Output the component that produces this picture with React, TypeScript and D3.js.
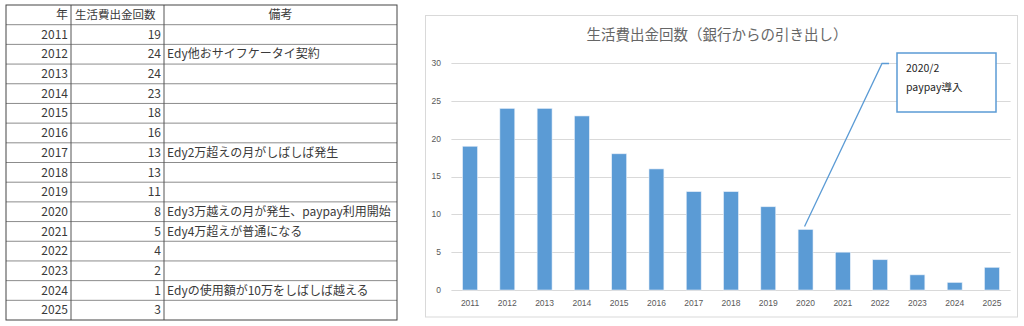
import React from "react";
import * as d3 from "d3";

const years = ["2011","2012","2013","2014","2015","2016","2017","2018","2019","2020","2021","2022","2023","2024","2025"];
const counts = [19, 24, 24, 23, 18, 16, 13, 13, 11, 8, 5, 4, 2, 1, 3];
const notes = ["", "Edy他おサイフケータイ契約", "", "", "", "", "Edy2万超えの月がしばしば発生", "", "", "Edy3万越えの月が発生、paypay利用開始", "Edy4万超えが普通になる", "", "", "Edyの使用額が10万をしばしば越える", ""];
const yTicks = [0, 5, 10, 15, 20, 25, 30];
const headers = ["年", "生活費出金回数", "備考"];
const chartTitle = "生活費出金回数（銀行からの引き出し）";
const annotationLines = ["2020/2", "paypay導入"];
const annotationYear = "2020";

const JP = "'Noto Sans CJK JP', 'Noto Sans', sans-serif";

export default function App() {
  // table geometry
  const tL = 6, tR = 397, tT = 5, tB = 320;
  const c1 = 71, c2 = 164;
  const rowH = (tB - tT) / (years.length + 1);

  // chart geometry
  const x = d3.scaleBand<string>().domain(years).range([451.4, 1010.6]).paddingInner(0.6).paddingOuter(0.3);
  const y = d3.scaleLinear().domain([0, 30]).range([290, 63]);

  const ax = (x(annotationYear) ?? 0) + x.bandwidth() / 2;
  const ayVal = counts[years.indexOf(annotationYear)];

  return (
    <svg width={1024} height={326} style={{ position: "absolute", left: 0, top: 0, background: "#fff" }}>
      <rect x={0} y={0} width={1024} height={326} fill="#fff" />
      {/* TABLE */}
      <g fontFamily={JP} fontSize={12} fill="#3a3a3a">
        {d3.range(1, years.length + 1).map((i) => (
          <line key={"h" + i} x1={tL} x2={tR} y1={tT + i * rowH} y2={tT + i * rowH} stroke="#8c8c8c" strokeWidth={1} />
        ))}
        {[c1, c2].map((cx, i) => (
          <line key={"v" + i} x1={cx} x2={cx} y1={tT} y2={tB} stroke="#555" strokeWidth={1} />
        ))}
        <rect x={tL} y={tT} width={tR - tL} height={tB - tT} fill="none" stroke="#444" strokeWidth={1} />
        <text x={c1 - 3} y={tT + rowH / 2} dy="0.35em" textAnchor="end">{headers[0]}</text>
        <text x={c1 + 4} y={tT + rowH / 2} dy="0.35em" fontSize={11.5}>{headers[1]}</text>
        <text x={(c2 + tR) / 2} y={tT + rowH / 2} dy="0.35em" textAnchor="middle">{headers[2]}</text>
        {years.map((yr, i) => {
          const cy = tT + (i + 1.5) * rowH;
          return (
            <g key={yr}>
              <text x={c1 - 3} y={cy} dy="0.35em" textAnchor="end">{yr}</text>
              <text x={c2 - 3} y={cy} dy="0.35em" textAnchor="end">{counts[i]}</text>
              {notes[i] && <text x={c2 + 3} y={cy} dy="0.35em">{notes[i]}</text>}
            </g>
          );
        })}
      </g>

      {/* CHART */}
      <rect x={425.5} y={15.5} width={592} height={301.5} fill="#fff" stroke="#d9d9d9" strokeWidth={1} />
      <text x={717} y={35} dy="0.35em" textAnchor="middle" fontFamily={JP} fontSize={14.5} fill="#666">{chartTitle}</text>
      {yTicks.map((t) => (
        <g key={t}>
          <line x1={451.4} x2={1010.6} y1={Math.round(y(t)) + 0.5} y2={Math.round(y(t)) + 0.5} stroke="#d9d9d9" strokeWidth={1} />
          <text x={441} y={y(t)} dy="0.35em" textAnchor="end" fontFamily="'Liberation Sans', sans-serif" fontSize={8.5} fill="#595959">{t}</text>
        </g>
      ))}
      {years.map((yr, i) => (
        <g key={yr}>
          <rect x={x(yr)} y={y(counts[i])} width={x.bandwidth()} height={y(0) - y(counts[i])} fill="#5b9bd5" stroke="#e6eef8" strokeWidth={0.6} />
          <text x={(x(yr) ?? 0) + x.bandwidth() / 2} y={303} dy="0.35em" textAnchor="middle" fontFamily="'Liberation Sans', sans-serif" fontSize={8.5} fill="#595959">{yr}</text>
        </g>
      ))}

      {/* annotation */}
      <polyline points={`${ax - 1},${y(ayVal) - 3} ${882},${63.5} ${889},${63.5}`} fill="none" stroke="#5b9bd5" strokeWidth={1.3} />
      <rect x={897} y={53} width={99} height={59} fill="#fff" stroke="#5b9bd5" strokeWidth={1.5} />
      {annotationLines.map((l, i) => (
        <text key={i} x={906} y={68 + i * 19} dy="0.35em" fontFamily={JP} fontSize={10.5} fill="#262626">{l}</text>
      ))}
    </svg>
  );
}
